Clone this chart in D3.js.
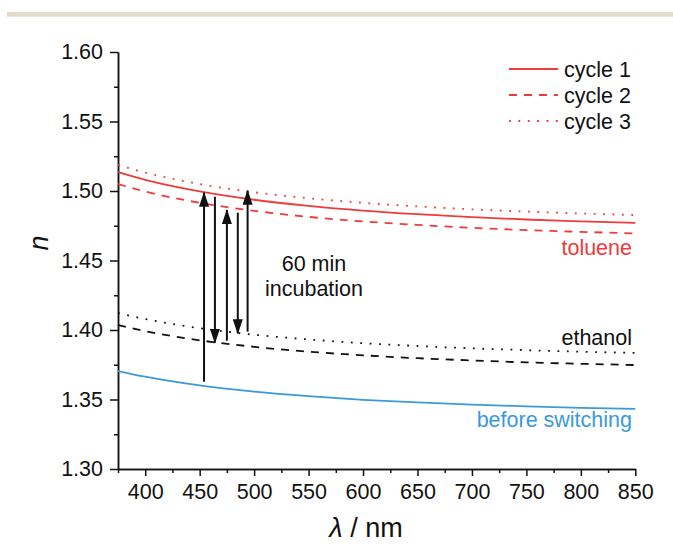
<!DOCTYPE html>
<html>
<head>
	<title>Refractive index</title>
	<script src="https://d3js.org/d3.v7.min.js" charset="utf-8"></script>
	<style>
		body { margin: 0; background: #fff; }
		svg, svg text { font-family: "Liberation Sans", Arial, sans-serif; }
		svg { display: block; }
		.axis text { font-size: 21.5px; fill: #111; font-family: "Liberation Sans", Arial, sans-serif; }
		.axis path, .axis line { stroke: #111; stroke-width: 1.5px; }
	</style>
</head>
<body>
	<script>
		// DATA
		var wavelength = [375, 400, 450, 500, 550, 600, 650, 700, 750, 800, 850];
		var tolueneC1 = [1.5135, 1.5080, 1.4997, 1.4937, 1.4893, 1.4859, 1.4833, 1.4812, 1.4795, 1.4782, 1.4770];
		var tolueneC2 = [1.5050, 1.4996, 1.4915, 1.4857, 1.4814, 1.4781, 1.4756, 1.4735, 1.4719, 1.4706, 1.4695];
		var tolueneC3 = [1.5187, 1.5133, 1.5050, 1.4991, 1.4948, 1.4915, 1.4889, 1.4868, 1.4852, 1.4838, 1.4827];
		var ethanolC2 = [1.4036, 1.3992, 1.3926, 1.3879, 1.3844, 1.3818, 1.3797, 1.3781, 1.3767, 1.3757, 1.3748];
		var ethanolC3 = [1.4122, 1.4079, 1.4013, 1.3966, 1.3932, 1.3905, 1.3885, 1.3868, 1.3855, 1.3844, 1.3835];
		var beforeSwitching = [1.3705, 1.3664, 1.3601, 1.3557, 1.3524, 1.3498, 1.3479, 1.3463, 1.3451, 1.3440, 1.3432];

		// incubation arrows: x position, start n, end n
		var arrowX = [454, 464, 475, 485, 494];
		var arrowFrom = [1.3628, 1.4959, 1.3923, 1.4844, 1.3988];
		var arrowTo = [1.4988, 1.3909, 1.4863, 1.3976, 1.5002];

		var xTicks = [400, 450, 500, 550, 600, 650, 700, 750, 800, 850];
		var xMinor = [375, 425, 475, 525, 575, 625, 675, 725, 775, 825];
		var yTicks = [1.30, 1.35, 1.40, 1.45, 1.50, 1.55, 1.60];
		var yMinor = [1.325, 1.375, 1.425, 1.475, 1.525, 1.575];

		var legendNames = ["cycle 1", "cycle 2", "cycle 3"];

		var red = "#ee3b3b", blue = "#3b9ad9", black = "#111";
		var dashStyle = "8,7", dotStyle = "1.8,7.6";
		var fs = "21.5px";

		// SET UP SVG
		var width = 673,
			height = 545;
		var svg = d3.select("body").append("svg")
					.attr("width", width)
					.attr("height", height);

		// beige strip at top
		svg.append("rect")
			.attr("x", 7).attr("y", 12)
			.attr("width", width - 7).attr("height", 4.7)
			.attr("fill", "#e2dbca");

		var x = d3.scaleLinear().domain([375, 850]).range([118, 635.3]);
		var y = d3.scaleLinear().domain([1.30, 1.60]).range([469, 52]);

		// AXES
		svg.append("g").attr("class", "axis")
			.attr("transform", "translate(0,469)")
			.call(d3.axisBottom(x).tickValues(xMinor).tickSize(4).tickSizeOuter(0).tickFormat(""));
		svg.append("g").attr("class", "axis")
			.attr("transform", "translate(0,469)")
			.call(d3.axisBottom(x).tickValues(xTicks).tickSize(7).tickSizeOuter(0).tickPadding(8).tickFormat(d3.format("d")));
		svg.append("g").attr("class", "axis")
			.attr("transform", "translate(118,0)")
			.call(d3.axisLeft(y).tickValues(yMinor).tickSize(4).tickSizeOuter(0).tickFormat(""));
		svg.append("g").attr("class", "axis")
			.attr("transform", "translate(118,0)")
			.call(d3.axisLeft(y).tickValues(yTicks).tickSize(8).tickSizeOuter(0).tickPadding(7).tickFormat(d3.format(".2f")));

		// axis titles
		var xTitle = svg.append("text")
			.attr("x", 366).attr("y", 537)
			.attr("text-anchor", "middle")
			.style("font-size", "27px").style("fill", black);
		xTitle.append("tspan").style("font-style", "italic").text("λ");
		xTitle.append("tspan").text(" / nm");

		svg.append("text")
			.attr("transform", "translate(48,243) rotate(-90)")
			.attr("text-anchor", "middle")
			.style("font-size", "27px").style("font-style", "italic").style("fill", black)
			.text("n");

		// CURVES
		var line = d3.line()
			.x(function(d, i) { return x(wavelength[i]); })
			.y(function(d) { return y(d); })
			.curve(d3.curveMonotoneX);

		var series = [
			{ values: tolueneC1, color: red, dash: null },
			{ values: tolueneC2, color: red, dash: dashStyle },
			{ values: tolueneC3, color: red, dash: dotStyle },
			{ values: ethanolC2, color: black, dash: dashStyle },
			{ values: ethanolC3, color: black, dash: dotStyle },
			{ values: beforeSwitching, color: blue, dash: null }
		];
		series.forEach(function(s) {
			svg.append("path")
				.attr("d", line(s.values))
				.attr("fill", "none")
				.attr("stroke", s.color)
				.attr("stroke-width", 1.8)
				.attr("stroke-dasharray", s.dash);
		});

		// ARROWS
		svg.append("defs").append("marker")
			.attr("id", "head")
			.attr("markerUnits", "userSpaceOnUse")
			.attr("viewBox", "0 0 15 10")
			.attr("refX", 14).attr("refY", 5)
			.attr("markerWidth", 15).attr("markerHeight", 10)
			.attr("orient", "auto")
			.append("path").attr("d", "M0,0 L15,5 L0,10 Z").attr("fill", black);

		arrowX.forEach(function(ax, i) {
			svg.append("line")
				.attr("x1", x(ax)).attr("x2", x(ax))
				.attr("y1", y(arrowFrom[i])).attr("y2", y(arrowTo[i]))
				.attr("stroke", black).attr("stroke-width", 2)
				.attr("marker-end", "url(#head)");
		});

		svg.append("text").attr("x", 314).attr("y", 271)
			.attr("text-anchor", "middle").style("font-size", fs).style("fill", black)
			.text("60 min");
		svg.append("text").attr("x", 314).attr("y", 296)
			.attr("text-anchor", "middle").style("font-size", fs).style("fill", black)
			.text("incubation");

		// curve labels
		svg.append("text").attr("x", 632).attr("y", 255)
			.attr("text-anchor", "end").style("font-size", fs).style("fill", red)
			.text("toluene");
		svg.append("text").attr("x", 632).attr("y", 345)
			.attr("text-anchor", "end").style("font-size", fs).style("fill", black)
			.text("ethanol");
		svg.append("text").attr("x", 632).attr("y", 427)
			.attr("text-anchor", "end").style("font-size", fs).style("fill", blue)
			.text("before switching");

		// LEGEND
		var legendDash = [null, dashStyle, dotStyle];
		legendNames.forEach(function(name, i) {
			var ly = 69 + i * 26;
			svg.append("line")
				.attr("x1", 509).attr("x2", 558)
				.attr("y1", ly).attr("y2", ly)
				.attr("stroke", red).attr("stroke-width", 1.8)
				.attr("stroke-dasharray", legendDash[i]);
			svg.append("text")
				.attr("x", 564).attr("y", ly + 7.5)
				.style("font-size", fs).style("fill", black)
				.text(name);
		});
	</script>
</body>
</html>
